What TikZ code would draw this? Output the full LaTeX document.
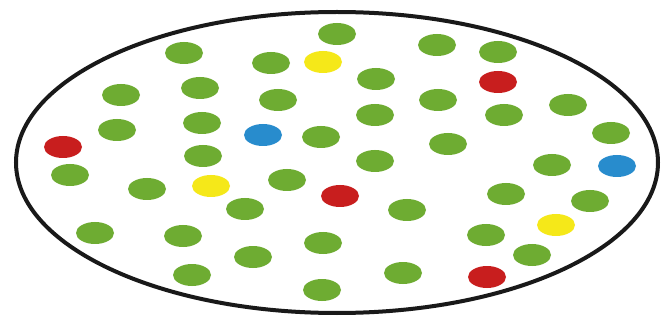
\documentclass[tikz,border=0pt]{standalone}
\definecolor{dotgreen}{RGB}{110,172,50}
\definecolor{dotred}{RGB}{200,30,30}
\definecolor{dotblue}{RGB}{40,140,205}
\definecolor{dotyellow}{RGB}{245,232,25}
\tikzset{
  rim/.style={line width=4pt, draw=black!90},
  dotshape/.style={fill=#1},
}
\begin{document}
\begin{tikzpicture}[x=1pt,y=-1pt]
\useasboundingbox (0,0) rectangle (670,326);
\fill[white] (0,0) rectangle (670,326);
\draw[rim, fill=white] (337,162.5) ellipse [x radius=321, y radius=150.5];
\foreach \x/\y in {337/34,184/53,271/63,437/45,498/52,376/79,121/95,200/88,278/100,
  438/100,568/105,375/115,504/115,117/130,202/123,321/137,611/133,448/144,
  203/156,375/161,552/165,70/175,147/189,287/180,245/209,506/194,590/201,
  407/210,95/233,183/236,323/243,486/235,253/257,532/255,192/275,403/273,322/290}
  \fill[dotshape=dotgreen] (\x,\y) ellipse [x radius=19, y radius=11];
\foreach \x/\y in {63/147,498/82,340/196,487/277}
  \fill[dotshape=dotred] (\x,\y) ellipse [x radius=19, y radius=11];
\foreach \x/\y in {263/135,617/166}
  \fill[dotshape=dotblue] (\x,\y) ellipse [x radius=19, y radius=11];
\foreach \x/\y in {323/62,211/186,556/225}
  \fill[dotshape=dotyellow] (\x,\y) ellipse [x radius=19, y radius=11];
\end{tikzpicture}
\end{document}
